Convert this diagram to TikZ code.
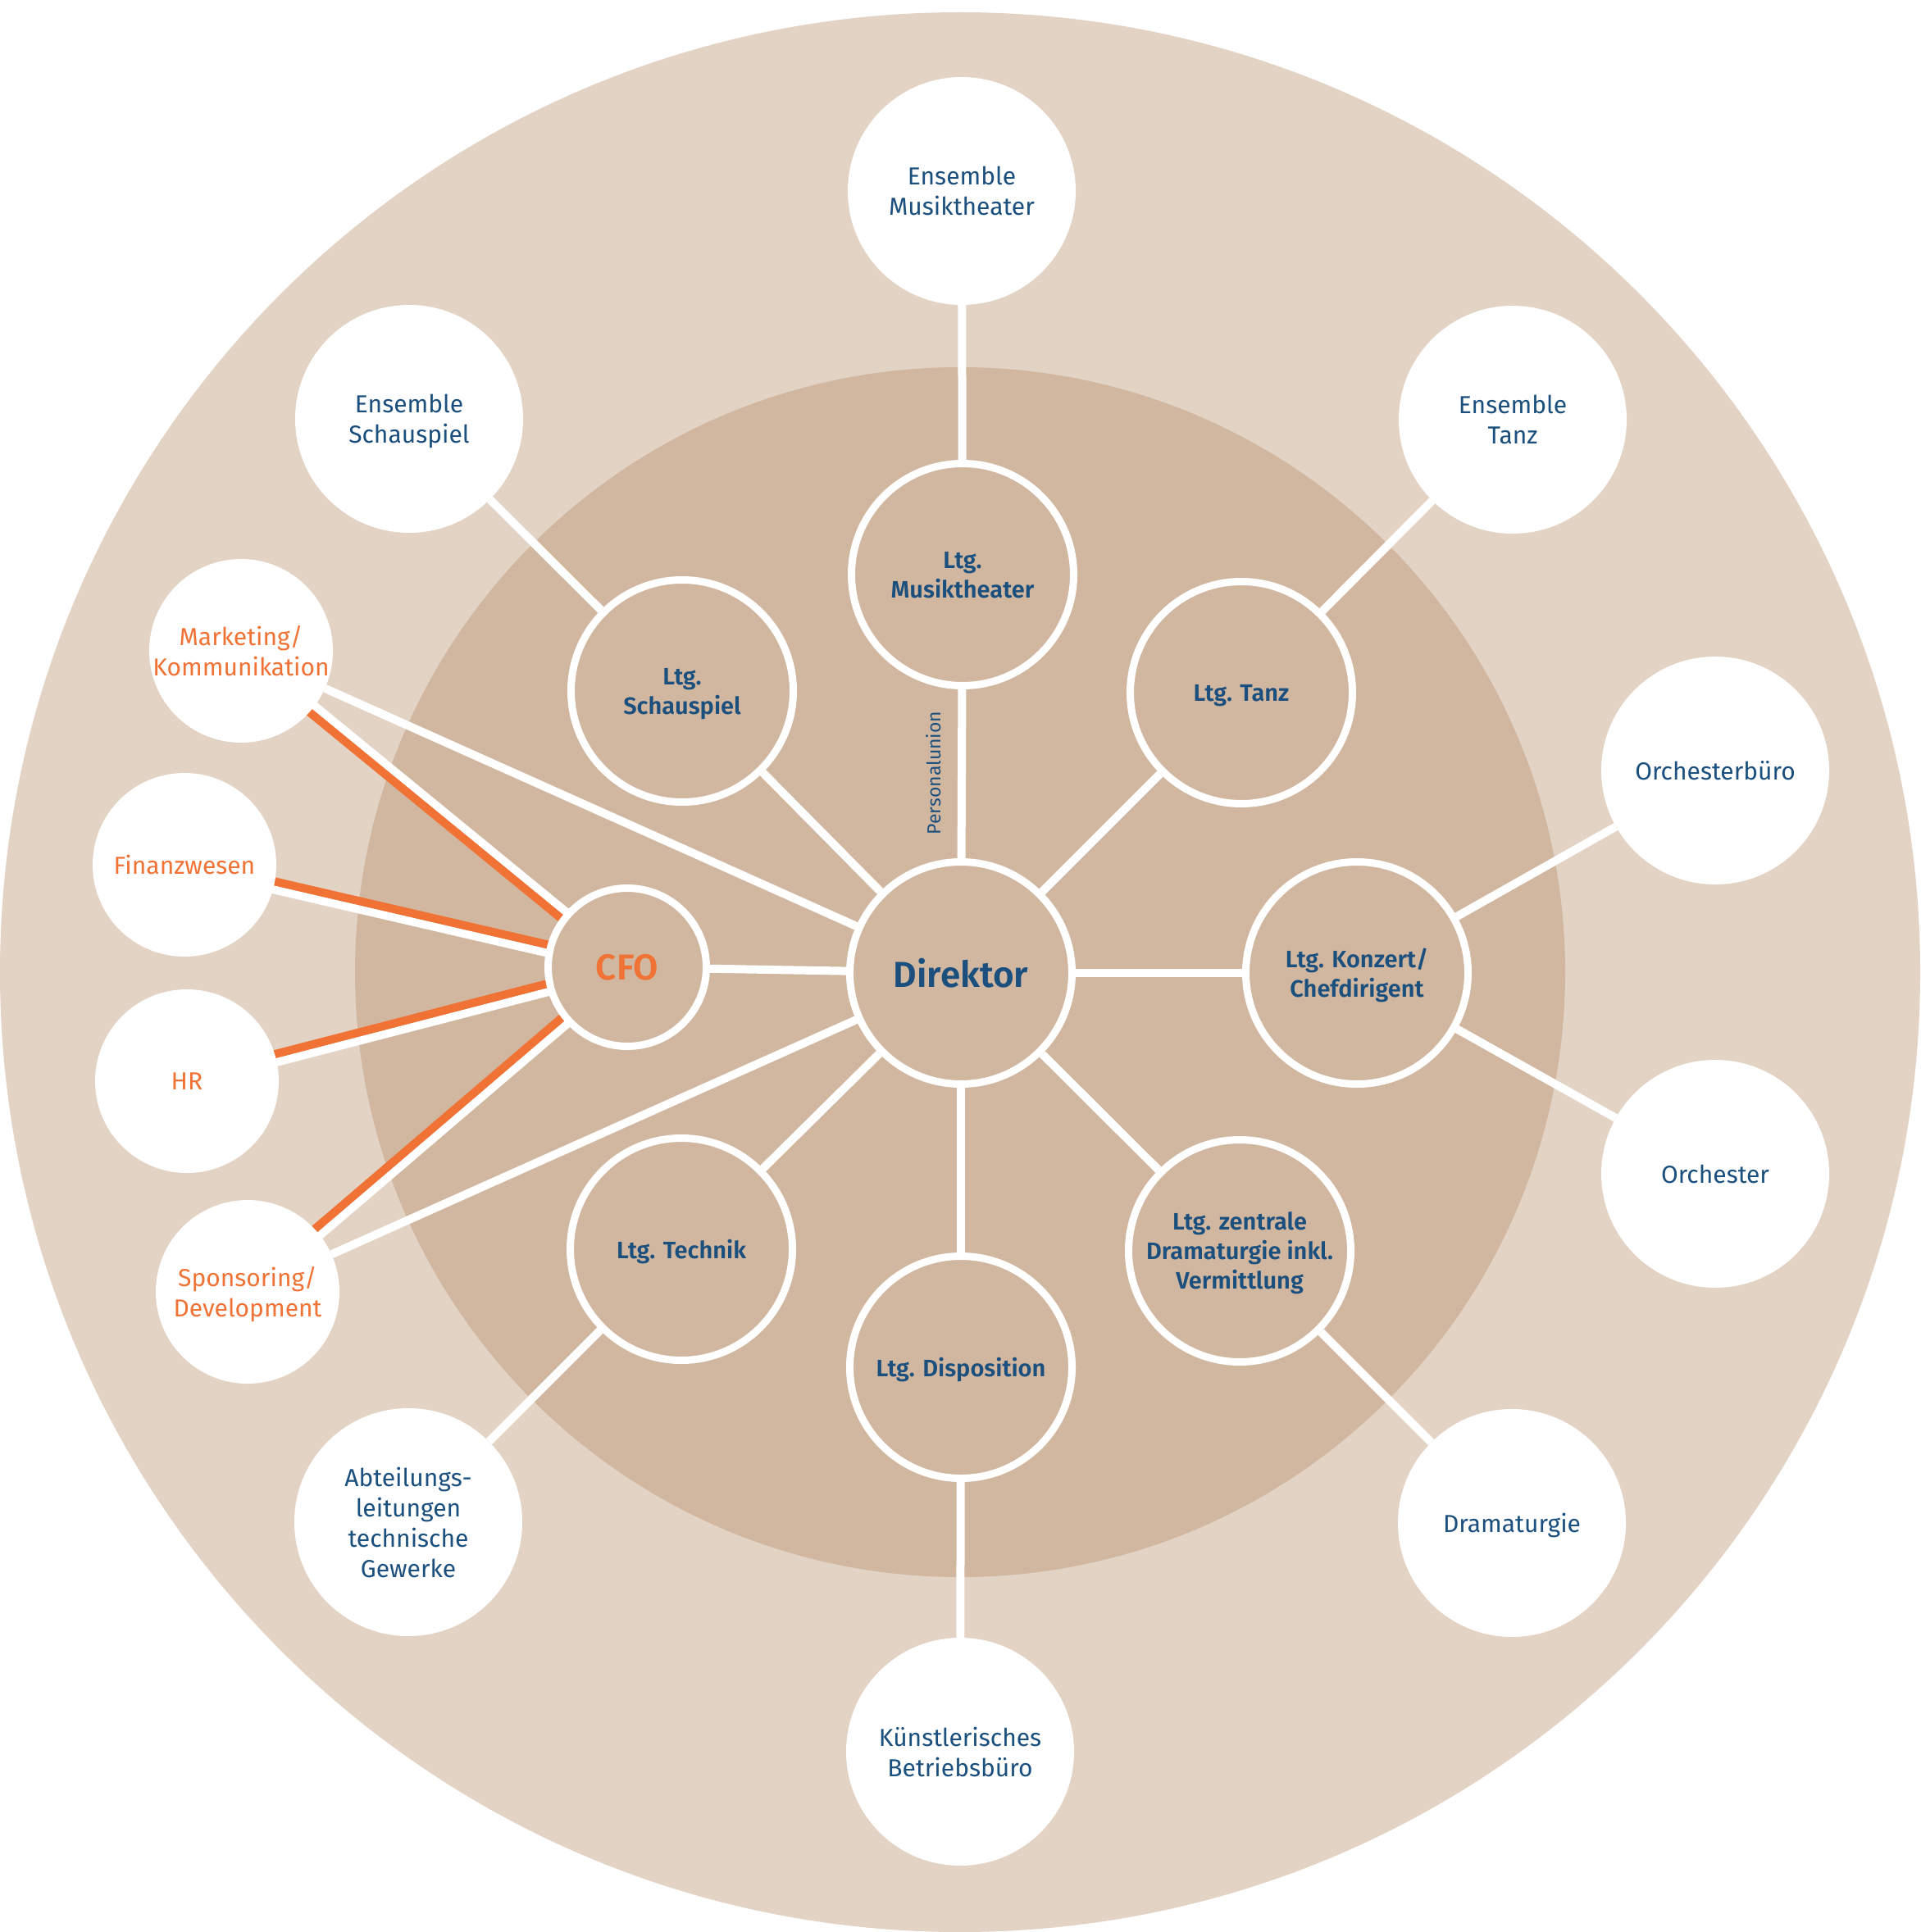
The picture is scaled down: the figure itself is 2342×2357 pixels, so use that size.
\documentclass[tikz,border=0pt]{standalone}
\usepackage{fontspec}
\setmainfont{Fira Sans}[BoldFont=* SemiBold]
\usetikzlibrary{calc}
\pgfdeclarelayer{background}
\pgfsetlayers{background,main}
\definecolor{ringouter}{HTML}{E3D3C5}
\definecolor{ringinner}{HTML}{D1B7A0}
\definecolor{ink}{HTML}{1B4F7D}
\definecolor{signal}{HTML}{F07234}
\begin{document}
\begin{tikzpicture}[x=1pt,y=-1pt,
    lead/.style={circle,draw=white,line width=9pt,fill=ringinner,minimum size=271pt,
      inner sep=0pt,text depth=0pt,text=ink,align=center,font=\fontsize{29}{36}\selectfont\bfseries},
    unit/.style={circle,fill=white,minimum size=278pt,inner sep=0pt,text depth=0pt,text=ink,
      align=center,font=\fontsize{30}{37}\selectfont},
    staff/.style={unit,minimum size=224pt,text=signal},
    link/.style={draw=white,line width=10pt},
    duty/.style={draw=signal,line width=10pt}]

        \useasboundingbox (0,0) rectangle (2342,2357);

        \begin{pgfonlayer}{background}
          \fill[white] (0,0) rectangle (2342,2357);
          \fill[ringouter] (1171,1186) circle[radius=1171pt];
          \fill[ringinner] (1171,1186) circle[radius=738pt];
        \end{pgfonlayer}

        % inner ring
        \begin{scope}[every node/.style={lead}]
          \node (dir)  at (1172,1187) {\fontsize{44}{50}\selectfont Direktor};
          \node (cfo)  at (765,1180)  [minimum size=193pt,text=signal]
                                      {\fontsize{44}{50}\selectfont CFO};
          \node (mt)   at (1174,701)  {Ltg.\\Musiktheater};
          \node (sch)  at (832,843)   {Ltg.\\Schauspiel};
          \node (tanz) at (1514,845)  {Ltg. Tanz};
          \node (konz) at (1655,1187) {Ltg. Konzert/\\Chefdirigent};
          \node (zdr)  at (1512,1526) {Ltg. zentrale\\Dramaturgie inkl.\\Vermittlung};
          \node (disp) at (1172,1668) {Ltg. Disposition};
          \node (tech) at (831,1524)  {Ltg. Technik};
        \end{scope}

        % outer ring
        \begin{scope}[every node/.style={unit}]
          \node (emt)    at (1173,233)  {Ensemble\\Musiktheater};
          \node (esch)   at (499,511)   {Ensemble\\Schauspiel};
          \node (etanz)  at (1845,512)  {Ensemble\\Tanz};
          \node (obuero) at (2092,940)  {Orchesterbüro};
          \node (orch)   at (2092,1432) {Orchester};
          \node (dram)   at (1844,1858) {Dramaturgie};
          \node (kbb)    at (1171,2137) {Künstlerisches\\Betriebsbüro};
          \node (abt)    at (498,1857)  {Abteilungs-\\leitungen\\technische\\Gewerke};
        \end{scope}

        \begin{scope}[every node/.style={staff}]
          \node (mkt) at (294,794)  {Marketing/\\Kommunikation};
          \node (fin) at (225,1055) {Finanzwesen};
          \node (hr)  at (228,1319) {HR};
          \node (spo) at (302,1576) {Sponsoring/\\Development};
        \end{scope}

        \node (pu) at (1139,943) [rotate=90,inner sep=0pt,text=ink,
          font=\fontsize{23}{28}\selectfont] {Personalunion};

        \begin{pgfonlayer}{background}
          \begin{scope}[every edge/.style={link}]
            \path (dir)  edge (mt);
            \path (dir)  edge (sch);
            \path (dir)  edge (tanz);
            \path (dir)  edge (konz);
            \path (dir)  edge (zdr);
            \path (dir)  edge (disp);
            \path (dir)  edge (tech);
            \path (dir)  edge (cfo);
            \path (dir)  edge (mkt);
            \path (dir)  edge (spo);
            \path (mt)   edge (emt);
            \path (sch)  edge (esch);
            \path (tanz) edge (etanz);
            \path (konz) edge (obuero);
            \path (konz) edge (orch);
            \path (zdr)  edge (dram);
            \path (disp) edge (kbb);
            \path (tech) edge (abt);
          \end{scope}

          % CFO lines: white and orange side by side
          \foreach \s/\o/\w in {mkt/90/-90,fin/-90/90,hr/-90/90,spo/-90/90} {
            \draw[link] ($(cfo.center)!5pt!\w:(\s.center)$) -- ($(\s.center)!5pt!\o:(cfo.center)$);
            \draw[duty] ($(cfo.center)!5pt!\o:(\s.center)$) -- ($(\s.center)!5pt!\w:(cfo.center)$);
          }
        \end{pgfonlayer}

      \end{tikzpicture}
\end{document}
